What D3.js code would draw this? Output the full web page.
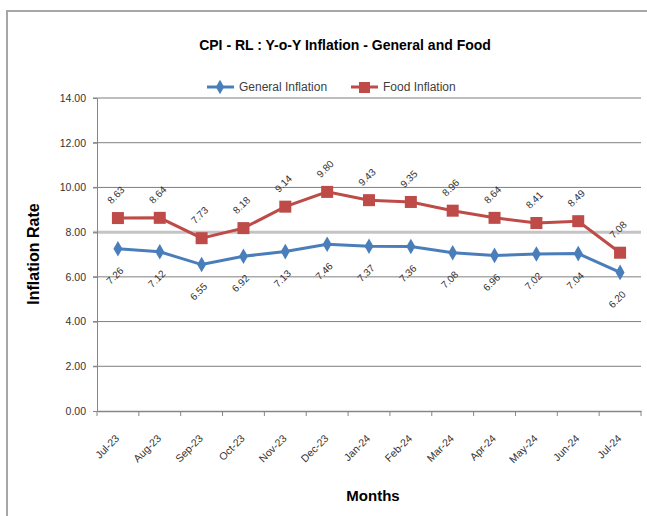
<!DOCTYPE html>
<html>
<head>
<meta charset="utf-8">
<style>
  body { margin: 0; background: #fff; }
  text { font-family: "Liberation Sans", Arial, sans-serif; }
</style>
</head>
<body>
<script src="https://cdn.jsdelivr.net/npm/d3@7"></script>
<script>
var months = ["Jul-23", "Aug-23", "Sep-23", "Oct-23", "Nov-23", "Dec-23", "Jan-24",
              "Feb-24", "Mar-24", "Apr-24", "May-24", "Jun-24", "Jul-24"];
var generalInflation = [7.26, 7.12, 6.55, 6.92, 7.13, 7.46, 7.37, 7.36, 7.08, 6.96, 7.02, 7.04, 6.20];
var foodInflation = [8.63, 8.64, 7.73, 8.18, 9.14, 9.80, 9.43, 9.35, 8.96, 8.64, 8.41, 8.49, 7.08];
var yTicks = [0, 2, 4, 6, 8, 10, 12, 14];

var width = 647, height = 516;
var svg = d3.select("body").append("svg")
    .attr("width", width)
    .attr("height", height);

// chart frame (clipped on right/bottom like the source)
svg.append("path")
    .attr("d", "M7,516V11H647")
    .attr("fill", "none")
    .attr("stroke", "#a6a6a6")
    .attr("stroke-width", 2);

var x = d3.scaleBand().domain(months).range([97, 641]);
var y = d3.scaleLinear().domain([0, 14]).range([411, 98]);
var cx = function(d, i) { return x(months[i]) + x.bandwidth() / 2; };

// title
svg.append("text")
    .attr("x", 345).attr("y", 50)
    .attr("text-anchor", "middle")
    .style("font-size", "14px").style("font-weight", "bold")
    .attr("fill", "#000")
    .text("CPI - RL : Y-o-Y Inflation - General and Food");

// gridlines
svg.append("g").selectAll("line")
    .data(yTicks.filter(function(t) { return t > 0; }))
    .enter().append("line")
    .attr("x1", 93).attr("x2", 641)
    .attr("y1", function(d) { return y(d); })
    .attr("y2", function(d) { return y(d); })
    .attr("stroke", function(d) { return d === 8 ? "#c4c4c4" : "#7f7f7f"; })
    .attr("stroke-width", function(d) { return d === 8 ? 3 : 1; });

// y axis
var yAxis = svg.append("g")
    .attr("transform", "translate(97,0)")
    .call(d3.axisLeft(y).tickValues(yTicks).tickSize(4).tickPadding(7)
        .tickFormat(d3.format(".2f")));
yAxis.select(".domain").attr("stroke", "#868686");
yAxis.selectAll(".tick line").attr("stroke", "#868686");
yAxis.selectAll("text").style("font-size", "10.5px").attr("fill", "#333");

// x axis
var xAxis = svg.append("g")
    .attr("transform", "translate(0,411)")
    .call(d3.axisBottom(x).tickSize(0).tickFormat(""));
xAxis.select(".domain").attr("stroke", "#868686").attr("stroke-width", 1.5);
svg.append("g").selectAll("line")
    .data(d3.range(months.length + 1))
    .enter().append("line")
    .attr("x1", function(i) { return 97 + i * x.step(); })
    .attr("x2", function(i) { return 97 + i * x.step(); })
    .attr("y1", 411).attr("y2", 416)
    .attr("stroke", "#868686");

svg.append("g").selectAll("text")
    .data(months)
    .enter().append("text")
    .attr("transform", function(d) {
        return "translate(" + (x(d) + x.bandwidth() / 2 + 2) + ",439) rotate(-45)";
    })
    .attr("text-anchor", "end")
    .style("font-size", "10.5px")
    .attr("fill", "#333")
    .text(function(d) { return d; });

// axis titles
svg.append("text")
    .attr("transform", "translate(39,254) rotate(-90)")
    .attr("text-anchor", "middle")
    .style("font-size", "16px").style("font-weight", "bold")
    .text("Inflation Rate");
svg.append("text")
    .attr("x", 373).attr("y", 501)
    .attr("text-anchor", "middle")
    .style("font-size", "15px").style("font-weight", "bold")
    .text("Months");

var line = d3.line()
    .x(cx)
    .y(function(d) { return y(d); });

// general
svg.append("path").datum(generalInflation)
    .attr("d", line).attr("fill", "none")
    .attr("stroke", "#4a7ebb").attr("stroke-width", 3);
svg.append("g").selectAll("path")
    .data(generalInflation).enter().append("path")
    .attr("d", d3.symbol(d3.symbolDiamond, 70))
    .attr("transform", function(d, i) { return "translate(" + cx(d, i) + "," + y(d) + ")"; })
    .attr("fill", "#4a7ebb");

// food
svg.append("path").datum(foodInflation)
    .attr("d", line).attr("fill", "none")
    .attr("stroke", "#be4b48").attr("stroke-width", 3);
svg.append("g").selectAll("rect")
    .data(foodInflation).enter().append("rect")
    .attr("x", function(d, i) { return cx(d, i) - 6; })
    .attr("y", function(d) { return y(d) - 6; })
    .attr("width", 12).attr("height", 12)
    .attr("fill", "#be4b48");

// data labels
svg.append("g").selectAll("text")
    .data(foodInflation).enter().append("text")
    .attr("transform", function(d, i) {
        return "translate(" + (cx(d, i) - 2) + "," + (y(d) - 23) + ") rotate(-45)";
    })
    .attr("text-anchor", "middle").attr("dy", "0.35em")
    .style("font-size", "10px").attr("fill", "#333")
    .text(function(d) { return d.toFixed(2); });
svg.append("g").selectAll("text")
    .data(generalInflation).enter().append("text")
    .attr("transform", function(d, i) {
        return "translate(" + (cx(d, i) - 3) + "," + (y(d) + 27) + ") rotate(-45)";
    })
    .attr("text-anchor", "middle").attr("dy", "0.35em")
    .style("font-size", "10px").attr("fill", "#333")
    .text(function(d) { return d.toFixed(2); });

// legend
var legend = svg.append("g").attr("transform", "translate(0,87)");
legend.append("line").attr("x1", 207).attr("x2", 234)
    .attr("stroke", "#4a7ebb").attr("stroke-width", 3);
legend.append("path").attr("d", d3.symbol(d3.symbolDiamond, 60))
    .attr("transform", "translate(220,0)").attr("fill", "#4a7ebb");
legend.append("text").attr("x", 239).attr("dy", "0.35em")
    .style("font-size", "12px").attr("fill", "#404040")
    .text("General Inflation");
legend.append("line").attr("x1", 351).attr("x2", 378)
    .attr("stroke", "#be4b48").attr("stroke-width", 3);
legend.append("rect").attr("x", 359).attr("y", -5).attr("width", 11).attr("height", 11)
    .attr("fill", "#be4b48");
legend.append("text").attr("x", 383).attr("dy", "0.35em")
    .style("font-size", "12px").attr("fill", "#404040")
    .text("Food Inflation");
</script>
</body>
</html>
